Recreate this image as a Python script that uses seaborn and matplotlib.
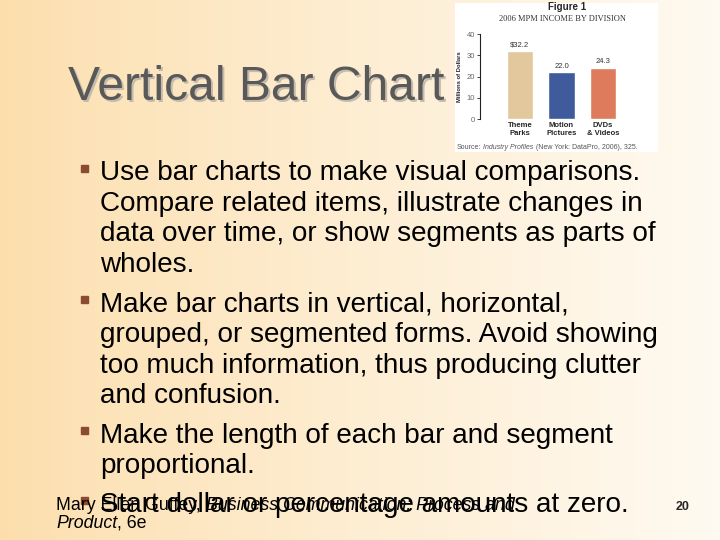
import numpy as np
import matplotlib
matplotlib.use("Agg")
import matplotlib.pyplot as plt
from matplotlib.patches import Rectangle
import seaborn as sns

# chart data (inset figure)
categories = ["Theme\nParks", "Motion\nPictures", "DVDs\n& Videos"]
income = [32.2, 22.0, 24.3]
value_labels = ["$32.2", "22.0", "24.3"]
bar_colors = ["#E2C89C", "#3F5B9C", "#DD7B5C"]
y_ticks = [0, 10, 20, 30, 40]

# slide text
slide_title = "Vertical Bar Chart"
bullets = [
    ["Use bar charts to make visual comparisons.",
     "Compare related items, illustrate changes in",
     "data over time, or show segments as parts of",
     "wholes."],
    ["Make bar charts in vertical, horizontal,",
     "grouped, or segmented forms. Avoid showing",
     "too much information, thus producing clutter",
     "and confusion."],
    ["Make the length of each bar and segment",
     "proportional."],
    ["Start dollar or percentage amounts at zero."],
]

sns.set_theme(style="white")
plt.rcParams["font.family"] = ["Liberation Sans", "DejaVu Sans"]

W, H = 720, 540
fig = plt.figure(figsize=(W / 100, H / 100), dpi=100)


def fx(x):
    return x / W


def fy(y):
    return 1 - y / H


# background gradient
t = np.linspace(0, 1, W) ** 0.85
left = np.array([252, 222, 172]) / 255
right = np.array([255, 250, 241]) / 255
grad = left + (right - left) * t[:, None]
bg = fig.add_axes([0, 0, 1, 1])
bg.imshow(np.tile(grad[None, :, :], (H, 1, 1)), aspect="auto")
bg.axis("off")

renderer = fig.canvas.get_renderer()


def draw_runs(x, y, runs, **kw):
    # runs of (text, fontstyle), placed one after another
    for text, style in runs:
        gap = 0
        if text.startswith(" "):
            gap = kw.get("fontsize", 10) * 0.28 * 100 / 72
            text = text.lstrip()
        x += gap
        tt = fig.text(fx(x), y, text, style=style, **kw)
        x += tt.get_window_extent(renderer).width


# title with shadow
fig.text(fx(70), fy(102), slide_title, fontsize=34.6, color="#C4BBAD", va="baseline")
fig.text(fx(68), fy(100), slide_title, fontsize=34.6, color="#595959", va="baseline")

# bullets
y = 180
for para in bullets:
    fig.add_artist(Rectangle((fx(80.5), fy(y - 8.5)), 7 / W, 7 / H,
                             transform=fig.transFigure, color="#8A4B33", zorder=3))
    for line in para:
        fig.text(fx(100), fy(y), line, fontsize=20.1, color="black", va="baseline")
        y += 30.7
    y += 8.5

# footer
draw_runs(56, fy(510), [("Mary Ellen Guffey,", "normal"),
                        (" Business Communication: Process and", "italic")],
          fontsize=12.8, color="black", va="baseline")
draw_runs(56, fy(528), [("Product", "italic"), (", 6e", "normal")],
          fontsize=12.8, color="black", va="baseline")
fig.text(fx(683), fy(510), "20", fontsize=9, fontweight="bold", ha="center", va="baseline")

# inset chart: white card
card = fig.add_axes([fx(455), fy(152), (658 - 455) / W, (152 - 3) / H])
card.set_facecolor("white")
card.set_xticks([])
card.set_yticks([])
for s in card.spines.values():
    s.set_visible(False)

fig.text(fx(567), fy(7.5), "Figure 1", fontsize=7, fontweight="bold", ha="center", va="center")
fig.text(fx(562), fy(19), "2006 MPM INCOME BY DIVISION", fontsize=6, family="Liberation Serif",
         color="#333333", ha="center", va="center")
draw_runs(457, fy(149), [("Source:", "normal"), (" Industry Profiles", "italic"),
                         (" (New York: DataPro, 2006), 325.", "normal")],
          fontsize=5, color="#555555", va="baseline")

ax = fig.add_axes([fx(480), fy(119), 148 / W, (119 - 34.3) / H])
ax.patch.set_alpha(0)
sns.barplot(x=categories, y=income, hue=categories, palette=bar_colors, legend=False,
            width=0.64, saturation=1, ax=ax)
for cont, lab in zip(ax.containers, value_labels):
    ax.bar_label(cont, labels=[lab], padding=1.5, fontsize=5.5, color="#333333")
ax.set_ylim(0, 40)
ax.set_xlim(-0.96, 2.6)
ax.set_yticks(y_ticks)
ax.set_yticklabels([str(v) for v in y_ticks])
ax.tick_params(axis="y", left=True, length=2.2, width=0.6, pad=1.5, labelsize=5.5,
               labelcolor="#666666", color="#222222")
ax.tick_params(axis="x", bottom=False, length=0, pad=2.5, labelsize=5.5)
for lbl in ax.get_xticklabels():
    lbl.set_fontweight("bold")
ax.set_xlabel("")
ax.set_ylabel("Millions of Dollars", fontsize=4.2, fontweight="bold", labelpad=3)
for s in ["top", "right", "bottom"]:
    ax.spines[s].set_visible(False)
ax.spines["left"].set_color("#222222")
ax.spines["left"].set_linewidth(0.8)

fig.savefig("out.png", dpi=100)
